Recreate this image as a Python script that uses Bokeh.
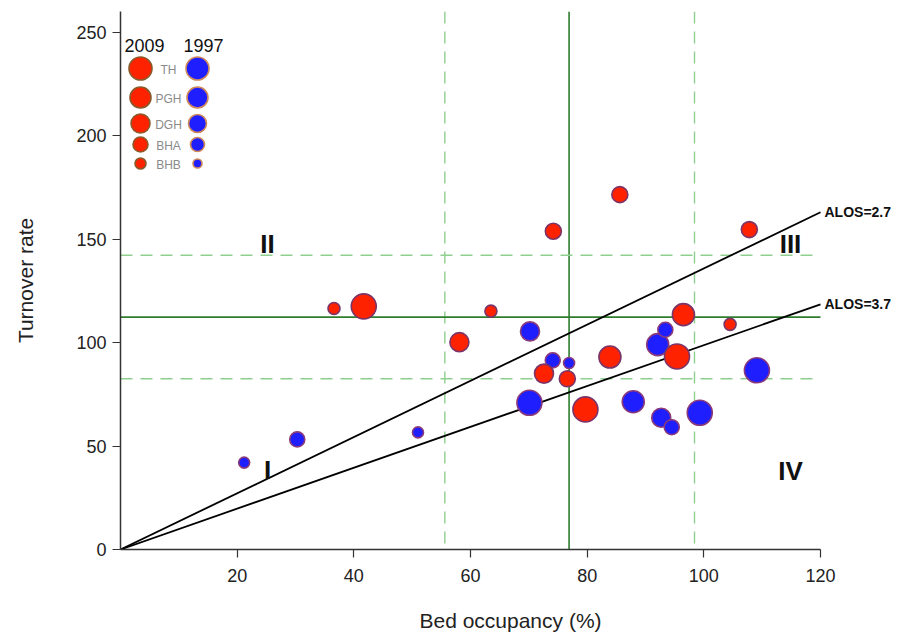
from bokeh.plotting import figure
from bokeh.models import ColumnDataSource, Label, FixedTicker, Span
from bokeh.embed import file_html
from bokeh.resources import INLINE

# ---------------- data ----------------
categories = ["TH", "PGH", "DGH", "BHA", "BHB"]
years = ["2009", "1997"]

occ_2009 = [36.6, 41.7, 63.5, 58.1, 72.6, 76.6, 79.7, 83.9, 95.4, 96.5, 104.5, 74.2, 85.6, 107.8]
tor_2009 = [116.5, 117.5, 115.2, 100.2, 85.0, 82.5, 67.7, 93.0, 93.3, 113.5, 108.8, 153.8, 171.5, 154.6]
cat_2009 = ["BHB", "TH", "BHB", "DGH", "DGH", "BHA", "TH", "PGH", "TH", "PGH", "BHB", "BHA", "BHA", "BHA"]

occ_1997 = [21.2, 30.3, 51.0, 70.2, 74.1, 76.9, 70.1, 87.9, 92.7, 94.5, 99.3, 92.1, 93.4, 109.1]
tor_1997 = [42.0, 53.2, 56.6, 105.4, 91.4, 90.1, 70.9, 71.4, 63.7, 59.1, 66.1, 99.0, 106.2, 86.6]
cat_1997 = ["BHB", "BHA", "BHB", "DGH", "BHA", "BHB", "TH", "PGH", "DGH", "BHA", "TH", "PGH", "BHA", "TH"]

x_ticks = [20, 40, 60, 80, 100, 120]
y_ticks = [0, 50, 100, 150, 200, 250]
x_axis_end = 120

alos_labels = ["ALOS=2.7", "ALOS=3.7"]
alos_x = [0, 120]
alos_27_y = [0, 163.0]
alos_37_y = [0, 118.5]

occ_mean = 76.9
occ_band = [55.6, 98.4]
tor_mean = 112.3
tor_band = [82.5, 142.2]

quadrants = ["I", "II", "III", "IV"]

# ---------------- styles ----------------
RED = "#ff2200"
RED_LINE = "#7a3468"
BLUE = "#1e1eff"
BLUE_LINE = "#8a3a7a"
SIZE_2009 = {"TH": 25, "PGH": 22, "DGH": 19, "BHA": 16, "BHB": 12}
SIZE_1997 = {"TH": 25, "PGH": 22, "DGH": 19, "BHA": 15, "BHB": 11}
LEG_SIZE_2009 = {"TH": 23, "PGH": 21, "DGH": 19, "BHA": 15, "BHB": 11}
LEG_SIZE_1997 = {"TH": 23, "PGH": 21, "DGH": 18, "BHA": 14, "BHB": 9}
FONT = "Liberation Sans"

# frame geometry (canvas pixels)
FL, FT, FW, FH = 120, 11, 780, 538
W, H = 900, 638
XS = 700.0 / 120.0          # px per x unit
X_END = FW / XS
Y_END = 260.0
YS = FH / Y_END


def dx(px):
    return (px - FL) / XS


def dy(py):
    return (FT + FH - py) / YS


p = figure(width=W, height=H, x_range=(0, X_END), y_range=(0, Y_END),
           output_backend="svg", toolbar_location=None,
           min_border_left=FL, min_border_right=W - FL - FW, min_border_top=FT,
           min_border_bottom=H - FT - FH)
p.outline_line_color = None
p.grid.visible = False
p.background_fill_color = "white"

for ax in (p.xaxis[0], p.yaxis[0]):
    ax.axis_line_color = "#333333"
    ax.axis_line_width = 1.5
    ax.major_tick_line_color = "#333333"
    ax.major_tick_line_width = 1.2
    ax.major_tick_out = 8
    ax.major_tick_in = 0
    ax.minor_tick_line_color = None
    ax.major_label_text_font = FONT
    ax.major_label_text_font_size = "18px"
    ax.major_label_text_color = "#222222"
    ax.axis_label_text_font = FONT
    ax.axis_label_text_font_size = "21px"
    ax.axis_label_text_font_style = "normal"
    ax.axis_label_text_color = "#222222"

p.xaxis.ticker = FixedTicker(ticks=x_ticks)
p.yaxis.ticker = FixedTicker(ticks=y_ticks)
p.xaxis.bounds = (0, x_axis_end)
p.xaxis.axis_label = "Bed occupancy (%)"
p.yaxis.axis_label = "Turnover rate"
p.xaxis.major_label_standoff = 11
p.xaxis.axis_label_standoff = 24
p.yaxis.major_label_standoff = 6
p.yaxis.axis_label_standoff = 36

# reference lines
for loc in occ_band:
    p.add_layout(Span(location=loc, dimension="height", line_color="#8fcf8f",
                      line_width=1.4, line_dash="12 8", level="underlay"))
p.segment(x0=[0, 0], x1=[x_axis_end, x_axis_end], y0=tor_band, y1=tor_band,
          line_color="#8fcf8f", line_width=1.4, line_dash="12 8")
p.add_layout(Span(location=occ_mean, dimension="height", line_color="#2e7d2e",
                  line_width=1.6, level="underlay"))
p.segment(x0=[0], x1=[x_axis_end], y0=[tor_mean], y1=[tor_mean],
          line_color="#2e7d2e", line_width=1.6)

# ALOS lines
p.line(alos_x, alos_27_y, line_color="black", line_width=1.8)
p.line(alos_x, alos_37_y, line_color="black", line_width=1.8)
p.add_layout(Label(x=alos_x[1], y=alos_27_y[1], text=alos_labels[0], x_offset=4,
                   text_font=FONT, text_font_size="14px", text_font_style="bold",
                   text_baseline="middle", text_color="#111111"))
p.add_layout(Label(x=alos_x[1], y=alos_37_y[1], text=alos_labels[1], x_offset=4,
                   text_font=FONT, text_font_size="14px", text_font_style="bold",
                   text_baseline="middle", text_color="#111111"))

# bubbles
src97 = ColumnDataSource(dict(x=occ_1997, y=tor_1997, s=[SIZE_1997[c] for c in cat_1997]))
src09 = ColumnDataSource(dict(x=occ_2009, y=tor_2009, s=[SIZE_2009[c] for c in cat_2009]))
p.scatter("x", "y", size="s", source=src97, fill_color=BLUE, line_color=BLUE_LINE, line_width=1.6)
p.scatter("x", "y", size="s", source=src09, fill_color=RED, line_color=RED_LINE, line_width=1.6)

# quadrant labels
quad_pos = {"I": (267, 469), "II": (267, 243), "III": (790, 243), "IV": (790, 470)}
for q in quadrants:
    qx, qy = quad_pos[q]
    p.add_layout(Label(x=dx(qx), y=dy(qy), text=q, text_font=FONT, text_font_size="26px",
                       text_font_style="bold", text_align="center", text_baseline="middle",
                       text_color="#111111"))

# inset legend
leg_y = [68, 97, 123, 144, 163]
p.add_layout(Label(x=dx(144), y=dy(45), text=years[0], text_font=FONT, text_font_size="18px",
                   text_align="center", text_baseline="middle", text_color="#111111"))
p.add_layout(Label(x=dx(203), y=dy(45), text=years[1], text_font=FONT, text_font_size="18px",
                   text_align="center", text_baseline="middle", text_color="#111111"))
leg09 = ColumnDataSource(dict(x=[dx(140)] * 5, y=[dy(v) for v in leg_y],
                              s=[LEG_SIZE_2009[c] for c in categories]))
leg97 = ColumnDataSource(dict(x=[dx(197)] * 5, y=[dy(v) for v in leg_y],
                              s=[LEG_SIZE_1997[c] for c in categories]))
p.scatter("x", "y", size="s", source=leg09, fill_color=RED, line_color="#8a5a2a", line_width=1.6)
p.scatter("x", "y", size="s", source=leg97, fill_color=BLUE, line_color="#d08a5a", line_width=1.6)
for c, ly in zip(categories, leg_y):
    p.add_layout(Label(x=dx(168), y=dy(ly + 1), text=c, text_font=FONT, text_font_size="12px",
                       text_align="center", text_baseline="middle", text_color="#8a8a8a"))

open("out.html", "w").write(file_html(p, INLINE))
